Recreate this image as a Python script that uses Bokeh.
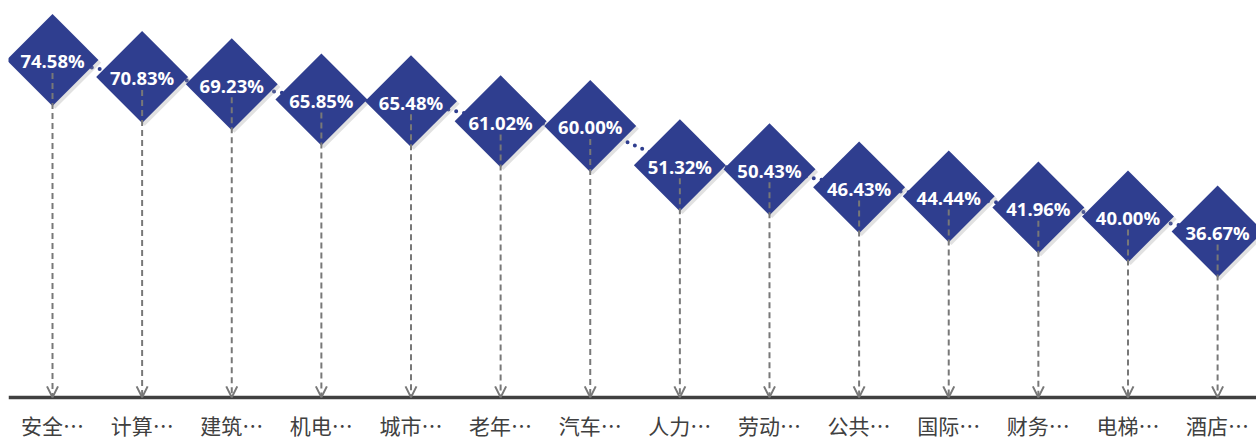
import math
from bokeh.plotting import figure
from bokeh.models import ColumnDataSource, Range1d, Arrow, OpenHead, Span
from bokeh.core.properties import value
from bokeh.transform import dodge
from bokeh.embed import file_html
from bokeh.resources import INLINE

categories = ["安全…", "计算…", "建筑…", "机电…", "城市…", "老年…", "汽车…",
              "人力…", "劳动…", "公共…", "国际…", "财务…", "电梯…", "酒店…"]
values = [74.58, 70.83, 69.23, 65.85, 65.48, 61.02, 60.00,
          51.32, 50.43, 46.43, 44.44, 41.96, 40.00, 36.67]
labels = [f"{v:.2f}%" for v in values]

BLUE = "#2f3e8f"
GREY = "#787878"
GAP = 2.9  # gap (in value units) between diamond centre and start of dashed arrow

src = ColumnDataSource(dict(x=list(range(len(values))), v=values, lab=labels, cat=categories,
                            zero=[0] * len(values),
                            start=[v - GAP for v in values]))

p = figure(width=1256, height=439, output_backend="svg", toolbar_location=None,
           x_range=Range1d(-0.491, 13.434), y_range=Range1d(-9.31, 87.73),
           min_border=0, min_border_left=8, min_border_right=0,
           min_border_top=0, min_border_bottom=0)
p.axis.visible = False
p.grid.visible = False
p.outline_line_color = None
p.background_fill_color = "white"
p.border_fill_color = "white"

# baseline
p.add_layout(Span(location=0, dimension="width", line_color="#404040", line_width=3.5))

# dotted connecting line
p.line("x", "v", source=src, line_color=BLUE, line_width=4, line_dash="0 8",
       line_cap="round")

# shadow
p.scatter(x=dodge("x", 0.03, range=p.x_range), y=dodge("v", -0.6, range=p.y_range),
          source=src, marker="square", size=65, angle=math.pi / 4,
          fill_color="#9a9a9a", fill_alpha=0.3, line_color=None)

# diamonds
p.scatter("x", "v", source=src, marker="square", size=65, angle=math.pi / 4,
          fill_color=BLUE, line_color=None)

# dashed arrows
p.add_layout(Arrow(source=src, x_start="x", y_start="start", x_end="x", y_end="zero",
                   line_color=GREY, line_width=2, line_dash="6 4",
                   end=OpenHead(size=11, line_color=GREY, line_width=2)))

# value labels
p.text("x", "v", text="lab", source=src, text_color="white",
       text_font=value("Open Sans"), text_font_style="bold", text_font_size="18.5px",
       text_align="center", text_baseline="middle", y_offset=1)

# category labels
p.text("x", "zero", text="cat", source=src, text_color="#404040",
       text_font=value("Noto Sans CJK SC"), text_font_size="21px",
       text_align="center", text_baseline="middle", y_offset=28)

open("out.html", "w").write(file_html(p, INLINE))
